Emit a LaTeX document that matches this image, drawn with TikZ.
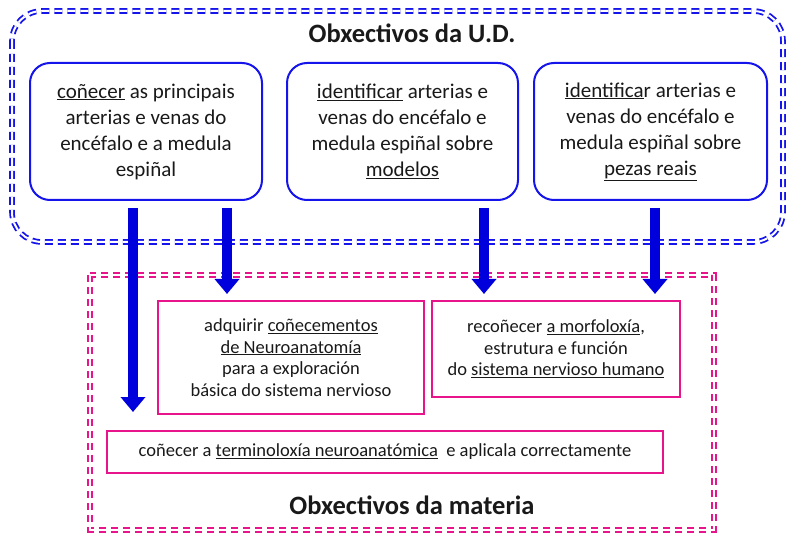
\documentclass[tikz,border=0pt]{standalone}
\usepackage{fontspec}
\setmainfont{Carlito}
\usetikzlibrary{arrows.meta}
\definecolor{udblue}{RGB}{20,20,235}
\definecolor{arrowblue}{RGB}{0,0,220}
\definecolor{matpink}{RGB}{232,20,140}
\definecolor{txtgray}{RGB}{25,25,25}

\begin{document}
\begin{tikzpicture}[x=1pt, y=-1pt,
    udbox/.style={draw=udblue, line width=2pt, rounded corners=20pt,
      minimum width=232pt, minimum height=137pt,
      align=center, inner sep=0pt, text=txtgray,
      font=\fontsize{21}{26}\selectfont},
    matbox/.style={draw=matpink, line width=2pt, inner sep=0pt,
      align=center, text=txtgray, font=\fontsize{18.5}{21.5}\selectfont},
    title/.style={text=txtgray, font=\fontsize{26.5}{30}\selectfont\bfseries},
    frame/.style={line width=1.8pt, double=white, double distance=2pt,
      dash pattern=on 8pt off 5pt},
    bigarrow/.style={arrowblue, line width=10pt,
      -{Triangle[width=24pt,length=15pt]}}]
  \useasboundingbox (0,0) rectangle (787,537);

  % frames
  \draw[frame, draw=udblue, rounded corners=30pt] (12,11) rectangle (783,242);
  \draw[frame, draw=matpink, dash pattern=on 7pt off 5pt] (90,275) rectangle (714,530);

  % objectives of the unit
  \node[title] (udtitle) at (412,33) {Obxectivos da U.D.};
  \node[udbox] (ud1) at (146,131.5)
    {\underline{coñecer} as principais\\ arterias e venas do\\ encéfalo e a medula\\ espiñal};
  \node[udbox, minimum width=231pt] (ud2) at (402.5,131.5)
    {\underline{identificar} arterias e\\ venas do encéfalo e\\ medula espiñal sobre\\ \underline{modelos}};
  \node[udbox, minimum width=233pt] (ud3) at (650.5,131.5)
    {\underline{identifica}r arterias e\\ venas do encéfalo e\\ medula espiñal sobre\\ \underline{pezas reais}};

  % objectives of the subject
  \node[matbox, minimum width=266pt, minimum height=113pt] (neuro) at (291,357.5)
    {adquirir \underline{coñecementos}\\ \underline{de Neuroanatomía}\\ para a exploración\\ básica do sistema nervioso};
  \node[matbox, minimum width=248pt, minimum height=96pt] (morfo) at (556,349)
    {recoñecer \underline{a morfoloxía},\\ estrutura e función\\ do \underline{sistema nervioso humano}};
  \node[matbox, minimum width=556pt, minimum height=42pt] (termo) at (385,452)
    {coñecer a \underline{terminoloxía neuroanatómica}~ e aplicala correctamente};
  \node[title] (mattitle) at (412,505) {Obxectivos da materia};

  % arrows
  \draw[bigarrow, shorten <=7pt, shorten >=18pt] ([xshift=-13pt]ud1.south) -- ([xshift=-13pt]ud1.south |- termo.north);
  \draw[bigarrow, shorten <=7pt, shorten >=6pt] ([xshift=81pt]ud1.south) -- ([xshift=81pt]ud1.south |- neuro.north);
  \draw[bigarrow, shorten <=7pt, shorten >=6pt] ([xshift=81.5pt]ud2.south) -- ([xshift=81.5pt]ud2.south |- morfo.north);
  \draw[bigarrow, shorten <=7pt, shorten >=6pt] ([xshift=4.5pt]ud3.south) -- ([xshift=4.5pt]ud3.south |- morfo.north);
\end{tikzpicture}
\end{document}
